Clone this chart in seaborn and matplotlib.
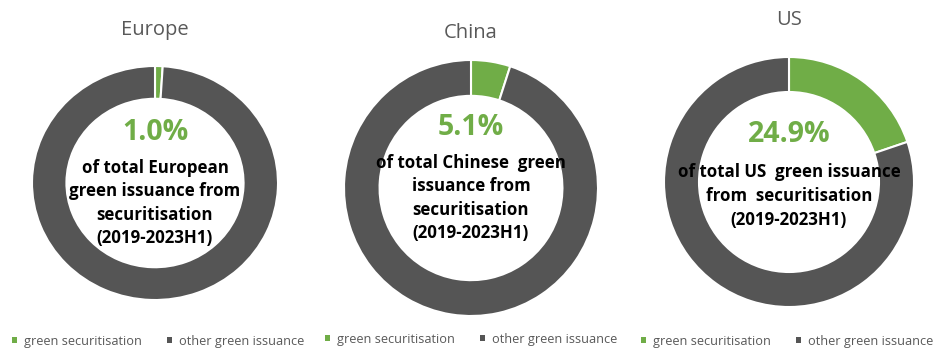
import matplotlib
matplotlib.use("Agg")
import matplotlib.pyplot as plt
from matplotlib.patches import Patch
import seaborn as sns

sns.set_theme(style="white")
plt.rcParams['font.family'] = ['Open Sans', 'DejaVu Sans']

regions = ["Europe", "China", "US"]
# share of the ring drawn green
green_wedge_share = [1.0, 5.0, 19.8]
# percentage labels printed in the middle of each ring
pct_labels = ["1.0%", "5.1%", "24.9%"]
segment_labels = ["green securitisation", "other green issuance"]
center_texts = [
    "of total European\ngreen issuance from\nsecuritisation\n(2019-2023H1)",
    "of total Chinese  green\nissuance from\nsecuritisation\n(2019-2023H1)",
    "of total US  green issuance\nfrom  securitisation\n(2019-2023H1)",
]

colors = ["#70AD47", "#555555"]
W, H = 945, 349
fig = plt.figure(figsize=(W / 100, H / 100), dpi=100)

# donut geometry in pixels: (cx, cy, w, h)
geo = [(155, 183, 246, 234), (471, 188, 254, 256), (789, 182, 250, 250)]
title_y = [30, 33, 20]
pct_y = [133, 128, 135]
txt_y = [203, 198, 196]
leg_x = [158, 471, 787]
leg_y = [341, 339, 341]

for i, region in enumerate(regions):
    cx, cy, w, h = geo[i]
    ax = fig.add_axes([(cx - w / 2) / W, 1 - (cy + h / 2) / H, w / W, h / H])
    vals = [green_wedge_share[i], 100 - green_wedge_share[i]]
    wedges, _ = ax.pie(vals, colors=colors, startangle=90, counterclock=False,
                       wedgeprops=dict(width=0.28, edgecolor="white", linewidth=1.5),
                       radius=1.0)
    ax.set_xlim(-1, 1)
    ax.set_ylim(-1, 1)
    ax.set_aspect("auto")
    ax.axis("off")
    fig.text(cx / W, 1 - title_y[i] / H, region, ha="center", va="center",
             fontsize=14.5, color="#595959")
    fig.text(cx / W, 1 - pct_y[i] / H, pct_labels[i], ha="center", va="center",
             fontsize=20.5, fontweight="bold", color="#70AD47")
    fig.text(cx / W, 1 - txt_y[i] / H, center_texts[i], ha="center", va="center",
             fontsize=12.2, fontweight="bold", color="black", linespacing=1.4)
    handles = [Patch(facecolor=c, edgecolor="none") for c in colors]
    fig.legend(handles, segment_labels, loc="center", ncol=2,
               bbox_to_anchor=(leg_x[i] / W, 1 - leg_y[i] / H), frameon=False,
               fontsize=9.2, labelcolor="#595959", handlelength=0.42, handleheight=0.42,
               handletextpad=0.5, columnspacing=2.0, borderaxespad=0)

fig.savefig("out.png", dpi=100, facecolor="white")
